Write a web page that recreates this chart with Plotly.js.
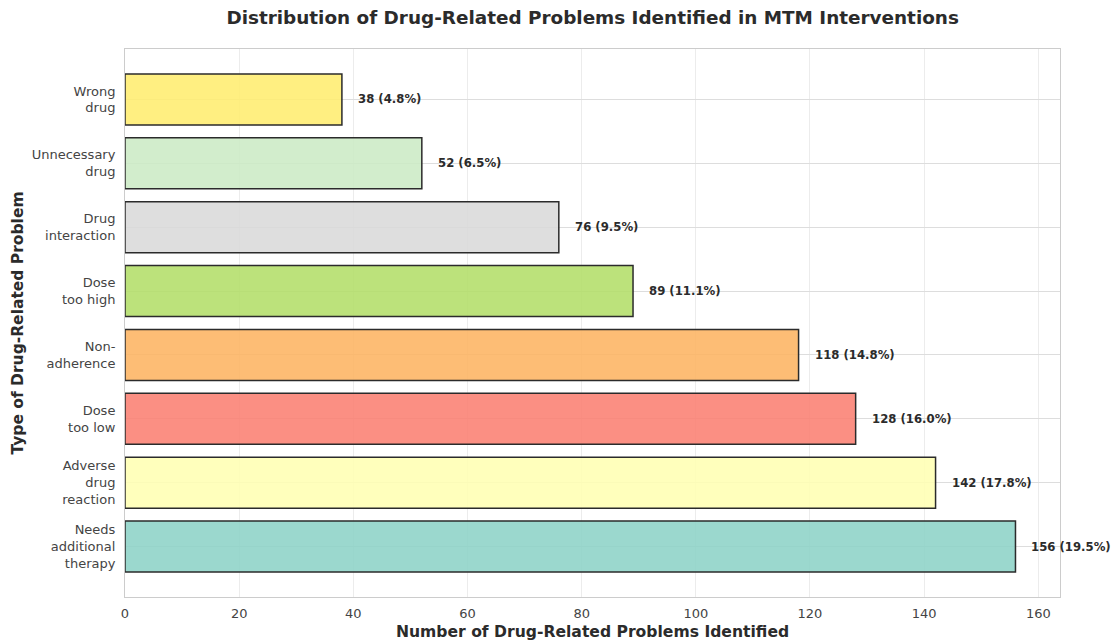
<!DOCTYPE html>
<html>
<head>
<meta charset="utf-8">
<script src="https://cdn.plot.ly/plotly-3.0.1.min.js"></script>
<style>
  html, body { margin: 0; padding: 0; background: #ffffff; }
  #chart { width: 1114px; height: 643px; }
</style>
</head>
<body>
<div id="chart"></div>
<script>
// Drug-related problem categories, listed from bottom to top
const categories = [
  "Needs<br>additional<br>therapy",
  "Adverse<br>drug<br>reaction",
  "Dose<br>too low",
  "Non-<br>adherence",
  "Dose<br>too high",
  "Drug<br>interaction",
  "Unnecessary<br>drug",
  "Wrong<br>drug"
];
const counts = [156, 142, 128, 118, 89, 76, 52, 38];
const barColors = [
  "rgba(141,211,199,0.88)",
  "rgba(255,255,179,0.88)",
  "rgba(251,128,114,0.88)",
  "rgba(253,180,98,0.88)",
  "rgba(179,222,105,0.88)",
  "rgba(217,217,217,0.88)",
  "rgba(204,235,197,0.88)",
  "rgba(255,237,111,0.88)"
];
const xTicks = [0, 20, 40, 60, 80, 100, 120, 140, 160];

const total = counts.reduce((a, b) => a + b, 0);
const maxCount = Math.max(...counts);

const bars = {
  type: "bar",
  orientation: "h",
  x: counts,
  y: categories,
  width: 0.8,
  marker: { color: barColors, line: { color: "#2b2b2b", width: 1.5 } },
  hoverinfo: "x+y"
};

const labels = counts.map((v, i) => ({
  x: v,
  y: categories[i],
  xref: "x",
  yref: "y",
  xanchor: "left",
  yanchor: "middle",
  xshift: 14,
  showarrow: false,
  text: "<b>" + v + " (" + (100 * v / total).toFixed(1) + "%)</b>",
  font: { family: "DejaVu Sans", size: 11.7, color: "#2b2b2b" }
}));

const layout = {
  width: 1114,
  height: 643,
  margin: { l: 125, r: 54, t: 49, b: 46 },
  paper_bgcolor: "#ffffff",
  plot_bgcolor: "#ffffff",
  font: { family: "DejaVu Sans", color: "#444444" },
  title: {
    text: "<b>Distribution of Drug-Related Problems Identified in MTM Interventions</b>",
    font: { family: "DejaVu Sans", size: 18.4, color: "#2b2b2b" },
    x: 0.532,
    xanchor: "center",
    y: 0.972,
    yanchor: "middle"
  },
  xaxis: {
    range: [0, maxCount * 1.05],
    tickvals: xTicks,
    ticktext: xTicks.map(String),
    tickfont: { family: "DejaVu Sans", size: 13, color: "#444444" },
    ticks: "",
    ticklabelstandoff: 4,
    showgrid: true,
    gridcolor: "#ececec",
    gridwidth: 1,
    zeroline: false,
    showline: true,
    linecolor: "#cccccc",
    linewidth: 1,
    mirror: true,
    title: {
      text: "<b>Number of Drug-Related Problems Identified</b>",
      font: { family: "DejaVu Sans", size: 15.6, color: "#2b2b2b" },
      standoff: 6
    }
  },
  yaxis: {
    type: "category",
    categoryorder: "array",
    categoryarray: categories,
    range: [-0.79, 7.79],
    tickfont: { family: "DejaVu Sans", size: 13, color: "#444444" },
    ticks: "",
    ticklabelstandoff: 6,
    showgrid: true,
    gridcolor: "#dddddd",
    gridwidth: 1,
    zeroline: false,
    showline: true,
    linecolor: "#cccccc",
    linewidth: 1,
    mirror: true,
    title: {
      text: "<b>Type of Drug-Related Problem</b>",
      font: { family: "DejaVu Sans", size: 15.5, color: "#2b2b2b" },
      standoff: 4
    }
  },
  annotations: labels,
  showlegend: false,
  bargap: 0.2
};

Plotly.newPlot("chart", [bars], layout, { displayModeBar: false, staticPlot: true });
</script>
</body>
</html>
